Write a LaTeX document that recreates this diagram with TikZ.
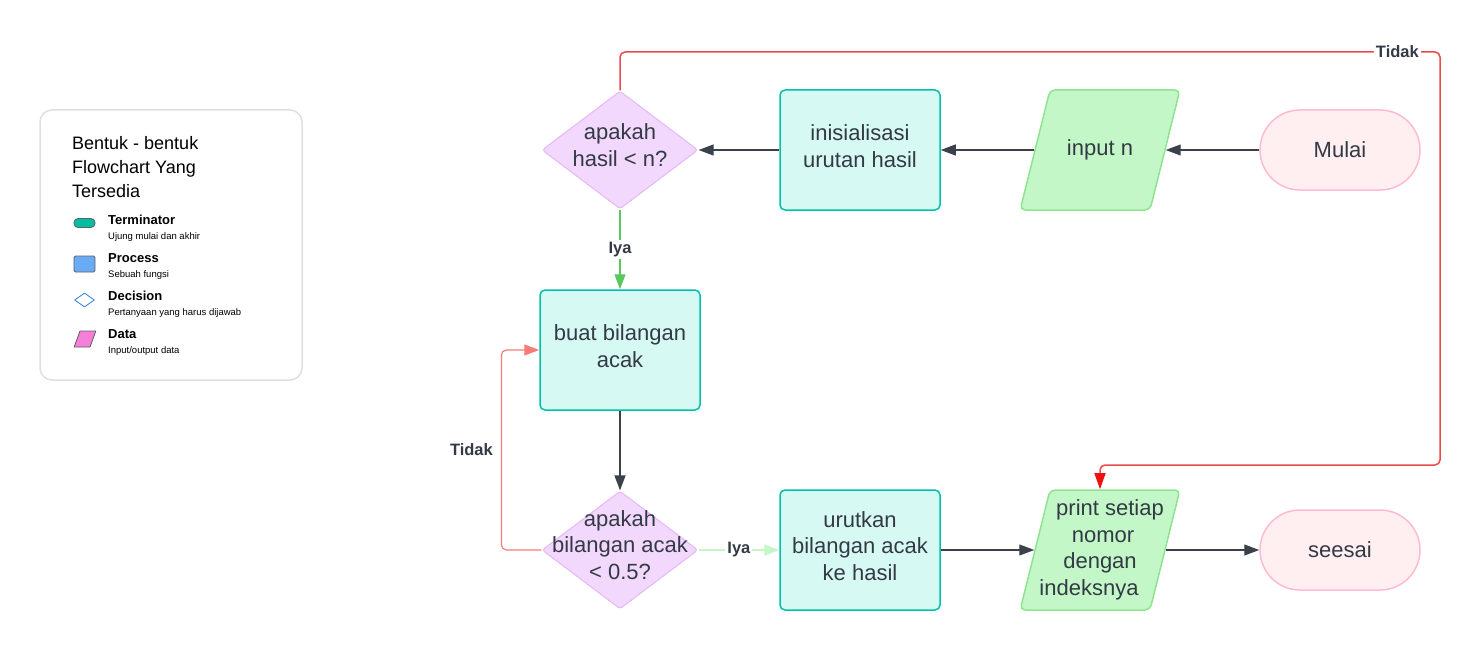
\documentclass[tikz,border=0pt]{standalone}
\usepackage{fontspec}
\setmainfont{Liberation Sans}
\usetikzlibrary{shapes.geometric,arrows.meta,positioning}
\definecolor{ink}{HTML}{333A45}
\definecolor{wire}{HTML}{3A414A}
\definecolor{decfill}{HTML}{F2D8FD}
\definecolor{decline}{HTML}{E8BCF7}
\definecolor{procfill}{HTML}{D7F9F3}
\definecolor{procline}{HTML}{00C2A8}
\definecolor{datafill}{HTML}{C3F7C8}
\definecolor{dataline}{HTML}{8EE48F}
\definecolor{termfill}{HTML}{FFEFF0}
\definecolor{termline}{HTML}{FFBAD5}
\definecolor{iyagreen}{HTML}{5AC85C}
\definecolor{iyapale}{HTML}{C3F7C8}
\definecolor{tidakred}{HTML}{E94B4B}
\definecolor{tidaktip}{HTML}{EE1111}
\definecolor{tidakpink}{HTML}{F87A7A}
\definecolor{legline}{HTML}{DDDFE3}
\definecolor{iconline}{HTML}{5B6068}
\definecolor{termicon}{HTML}{00BF9F}
\definecolor{procicon}{HTML}{6AABF6}
\definecolor{decicon}{HTML}{2A7DE1}
\definecolor{dataicon}{HTML}{F67FD8}

\begin{document}
\begin{tikzpicture}[x=1pt, y=1pt, node distance={240pt}, line join=round,
		txt/.style = {text=ink, align=center, font=\fontsize{22}{26.5}\selectfont},
		term/.style = {draw=termline, fill=termfill, line width=1.5pt, rounded corners=40pt, minimum width=160pt, minimum height=80pt, txt},
		proc/.style = {draw=procline, fill=procfill, line width=1.5pt, rounded corners=5pt, minimum width=160pt, minimum height=120pt, label={[txt, yshift=4pt]center:#1}},
		dec/.style = {diamond, draw=decline, fill=decfill, line width=1.2pt, rounded corners=3pt, minimum width=156pt, minimum height=118pt, inner sep=0pt, label={[txt, yshift=5pt]center:#1}},
		data/.style = {trapezium, trapezium left angle=76, trapezium right angle=104, draw=dataline, fill=datafill, line width=1.5pt, rounded corners=5pt, inner xsep=50pt, inner ysep=60pt, label={[txt]center:#1}},
		flow/.style = {draw=wire, line width=1.2pt, -{Triangle[length=15pt, width=11pt]}},
		lbl/.style = {fill=white, text=ink, inner sep=2pt, font=\fontsize{16.5}{18}\selectfont\bfseries},
		icon/.style = {draw=iconline, line width=0.8pt, inner sep=0pt},
		leghead/.style = {anchor=base west, inner sep=0pt, font=\fontsize{13}{15}\selectfont\bfseries},
		legsub/.style = {anchor=base west, inner sep=0pt, font=\fontsize{9.5}{11}\selectfont}]
		\useasboundingbox (0,0) rectangle (1481,-650);
		% legend
		\node[draw=legline, line width=1.5pt, rounded corners=12pt, minimum width=262pt, minimum height=270pt] (leg) at (171,-245) {};
		\node[anchor=north west, inner sep=0pt, align=left, font=\fontsize{18}{24}\selectfont] (legtitle) at (72,-136) {Bentuk - bentuk\\Flowchart Yang\\Tersedia};
		\node[icon, fill=termicon, rounded corners=4pt, minimum width=21pt, minimum height=9pt] (i1) at (84.5,-223) {};
		\node[leghead] (h1) at (108,-224) {Terminator};
		\node[legsub] (s1) at (108,-239.5) {Ujung mulai dan akhir};
		\node[icon, fill=procicon, rounded corners=1.5pt, minimum width=21pt, minimum height=16pt] (i2) at (84.5,-264) {};
		\node[leghead] (h2) at (108,-262) {Process};
		\node[legsub] (s2) at (108,-277.5) {Sebuah fungsi};
		\node[icon, diamond, draw=decicon, fill=white, minimum width=20pt, minimum height=14pt] (i3) at (84.5,-300) {};
		\node[leghead] (h3) at (108,-300) {Decision};
		\node[legsub] (s3) at (108,-315.5) {Pertanyaan yang harus dijawab};
		\node[icon, trapezium, trapezium left angle=70, trapezium right angle=110, fill=dataicon, inner xsep=5pt, inner ysep=8pt] (i4) at (85,-339) {};
		\node[leghead] (h4) at (108,-338) {Data};
		\node[legsub] (s4) at (108,-353.5) {Input/output data};
		% flowchart
		\node[term] (1) at (1340,-150) {Mulai};
		\node[data={input n}] (2) [left of=1] {};
		\node[proc={inisialisasi\\urutan hasil}] (3) [left of=2] {};
		\node[dec={apakah\\hasil < n?}] (4) [left of=3] {};
		\node[proc={buat bilangan\\acak}] (5) [node distance=200pt, below of=4] {};
		\node[dec={apakah\\bilangan acak\\< 0.5?}] (6) [node distance=200pt, below of=5] {};
		\node[proc={urutkan\\bilangan acak\\ke hasil}] (7) [right of=6] {};
		\node[data={\hspace*{20pt}print setiap\\\hspace*{6pt}nomor\\dengan\hspace*{8pt}\\indeksnya\hspace*{22pt}}] (8) [right of=7] {};
		\node[term] (9) [right of=8] {seesai};
		\coordinate (c1) at (1440,-52);
		\coordinate (c2) at (1440,-465);
		\draw[flow] (1) -- (2);
		\draw[flow] (2) -- (3);
		\draw[flow] (3) -- (4);
		\draw[flow, draw=iyagreen] (4) -- node[lbl] {Iya} (5);
		\draw[flow] (5) -- (6);
		\draw[flow, draw=iyapale] (6) -- node[lbl] {Iya} (7);
		\draw[flow] (7) -- (8);
		\draw[flow] (8) -- (9);
		\draw[flow, draw=tidakpink, rounded corners=5pt] (6.west) -- ++(-40,0) |- node[lbl, pos=0.25, left=6pt, fill=none] {Tidak} (5.west);
		\draw[draw=tidakred, line width=1.5pt, rounded corners=5pt, -{Triangle[length=16pt, width=11pt, color=tidaktip]}] (4.north) |- node[lbl, pos=0.974] {Tidak} (c1) -- (c2) -| (8.north);
	\end{tikzpicture}
\end{document}
